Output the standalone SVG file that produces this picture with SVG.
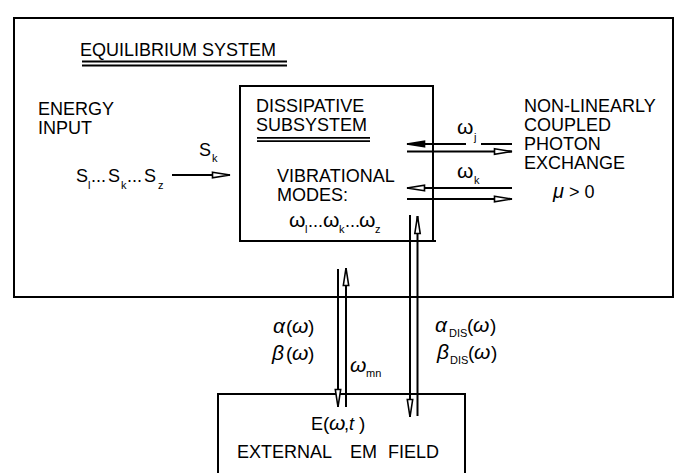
<svg xmlns="http://www.w3.org/2000/svg" width="676" height="473" viewBox="0 0 676 473">
<style>
text{font-family:"Liberation Sans",Arial,Helvetica,sans-serif;font-size:18px;fill:#000}
.sub{font-size:11px}
.g{font-style:italic;font-size:21px}
.p{font-size:19px}
.w{font-size:21px}
.box{fill:none;stroke:#000;stroke-width:2}
.ul{stroke:#000;stroke-width:1.8}
.c{fill:none;stroke:#000;stroke-width:2}
.o{marker-end:url(#open)}
.f{marker-end:url(#filled)}
</style>
<defs>
<marker id="open" viewBox="0 0 19 7" refX="18.5" refY="3.5" markerWidth="19" markerHeight="7" orient="auto" markerUnits="userSpaceOnUse" overflow="visible">
<path d="M1,0.8 L18.5,3.5 L1,6.2 Z" fill="#fff" stroke="#000" stroke-width="1.6"/>
</marker>
<marker id="filled" viewBox="0 0 19 7" refX="18.5" refY="3.5" markerWidth="19" markerHeight="7" orient="auto" markerUnits="userSpaceOnUse" overflow="visible">
<path d="M1,0.8 L18.5,3.5 L1,6.2 Z" fill="#000" stroke="#000" stroke-width="1.6"/>
</marker>
</defs>
<rect width="676" height="473" fill="#fff"/>

<g id="equilibrium-system">
<rect class="box" x="14" y="18" width="659" height="279"/>
<text x="80" y="56">EQUILIBRIUM SYSTEM</text>
<line class="ul" x1="82" y1="61.5" x2="287" y2="61.5"/>
<line class="ul" x1="82" y1="65.5" x2="287" y2="65.5"/>
</g>

<g id="energy-input">
<text x="38" y="115">ENERGY</text>
<text x="38" y="134">INPUT</text>
<text><tspan x="76" y="182">S</tspan><tspan class="sub" x="88" y="189">l</tspan><tspan x="91" y="182">...</tspan><tspan x="108" y="182">S</tspan><tspan class="sub" x="121" y="189">k</tspan><tspan x="127" y="182">...</tspan><tspan x="144" y="182">S</tspan><tspan class="sub" x="158" y="189">z</tspan></text>
</g>

<g id="dissipative-subsystem">
<rect class="box" x="240" y="86" width="193" height="155"/>
<line class="c" x1="433" y1="241" x2="436" y2="241"/>
<text x="256" y="112">DISSIPATIVE</text>
<text x="256" y="131">SUBSYSTEM</text>
<line class="ul" x1="257" y1="137.8" x2="370" y2="137.8"/>
<line class="ul" x1="257" y1="141.2" x2="370" y2="141.2"/>
<text x="277" y="182">VIBRATIONAL</text>
<text x="277" y="201">MODES:</text>
<text><tspan class="w" x="289" y="227">ω</tspan><tspan class="sub" x="305" y="233">l</tspan><tspan x="308" y="227">...</tspan><tspan class="w" x="323" y="227">ω</tspan><tspan class="sub" x="339" y="233">k</tspan><tspan x="345" y="227">...</tspan><tspan class="w" x="359" y="227">ω</tspan><tspan class="sub" x="375" y="233">z</tspan></text>
</g>

<g id="photon-exchange">
<text x="524" y="112">NON-LINEARLY</text>
<text x="524" y="131">COUPLED</text>
<text x="524" y="150">PHOTON</text>
<text x="524" y="169">EXCHANGE</text>
<text x="553" y="198"><tspan font-style="italic" font-size="20">μ</tspan> &gt; 0</text>
</g>

<g id="external-em-field">
<rect class="box" x="218" y="394" width="247" height="100"/>
<text><tspan x="311" y="430">E</tspan><tspan class="p" x="323" y="430">(</tspan><tspan class="g" x="329" y="430">ω</tspan><tspan x="344" y="430">,</tspan><tspan font-style="italic" x="349" y="430">t</tspan><tspan class="p" x="359" y="430">)</tspan></text>
<text x="237" y="458">EXTERNAL</text>
<text x="350" y="458">EM</text>
<text x="388" y="458">FIELD</text>
</g>

<g id="connectors">
<line class="c o" x1="172" y1="175" x2="230" y2="175"/>
<path class="c f" d="M512,144 L481,144 M466,144 L407,144"/>
<line class="c o" x1="407" y1="151.5" x2="512" y2="151.5"/>
<line class="c o" x1="512" y1="188" x2="407" y2="188"/>
<line class="c o" x1="407" y1="199" x2="512" y2="199"/>
<line class="c o" x1="338" y1="269" x2="338" y2="407"/>
<line class="c o" x1="346" y1="407" x2="346" y2="268"/>
<line class="c o" x1="410" y1="215" x2="410" y2="417"/>
<line class="c o" x1="417.5" y1="416" x2="417.5" y2="216"/>
</g>

<g id="connector-labels">
<text><tspan x="199" y="156">S</tspan><tspan class="sub" x="212" y="162">k</tspan></text>
<text><tspan class="w" x="457" y="134">ω</tspan><tspan class="sub" x="474" y="141">j</tspan></text>
<text><tspan class="w" x="457" y="178">ω</tspan><tspan class="sub" x="474" y="184">k</tspan></text>
<text><tspan class="g" x="273" y="333">α</tspan><tspan class="p" x="286" y="333">(</tspan><tspan class="g" x="292" y="333">ω</tspan><tspan class="p" x="308" y="333">)</tspan></text>
<text><tspan class="g" x="272" y="360">β</tspan><tspan class="p" x="286" y="360">(</tspan><tspan class="g" x="292" y="360">ω</tspan><tspan class="p" x="308" y="360">)</tspan></text>
<text><tspan class="g" x="350" y="372">ω</tspan><tspan class="sub" x="366" y="377">mn</tspan></text>
<text><tspan class="g" x="435" y="332">α</tspan><tspan class="sub" x="449" y="337">DIS</tspan><tspan class="p" x="467" y="332">(</tspan><tspan class="g" x="473" y="332">ω</tspan><tspan class="p" x="490" y="332">)</tspan></text>
<text><tspan class="g" x="437" y="359">β</tspan><tspan class="sub" x="450" y="364">DIS</tspan><tspan class="p" x="468" y="359">(</tspan><tspan class="g" x="474" y="359">ω</tspan><tspan class="p" x="491" y="359">)</tspan></text>
</g>
</svg>
